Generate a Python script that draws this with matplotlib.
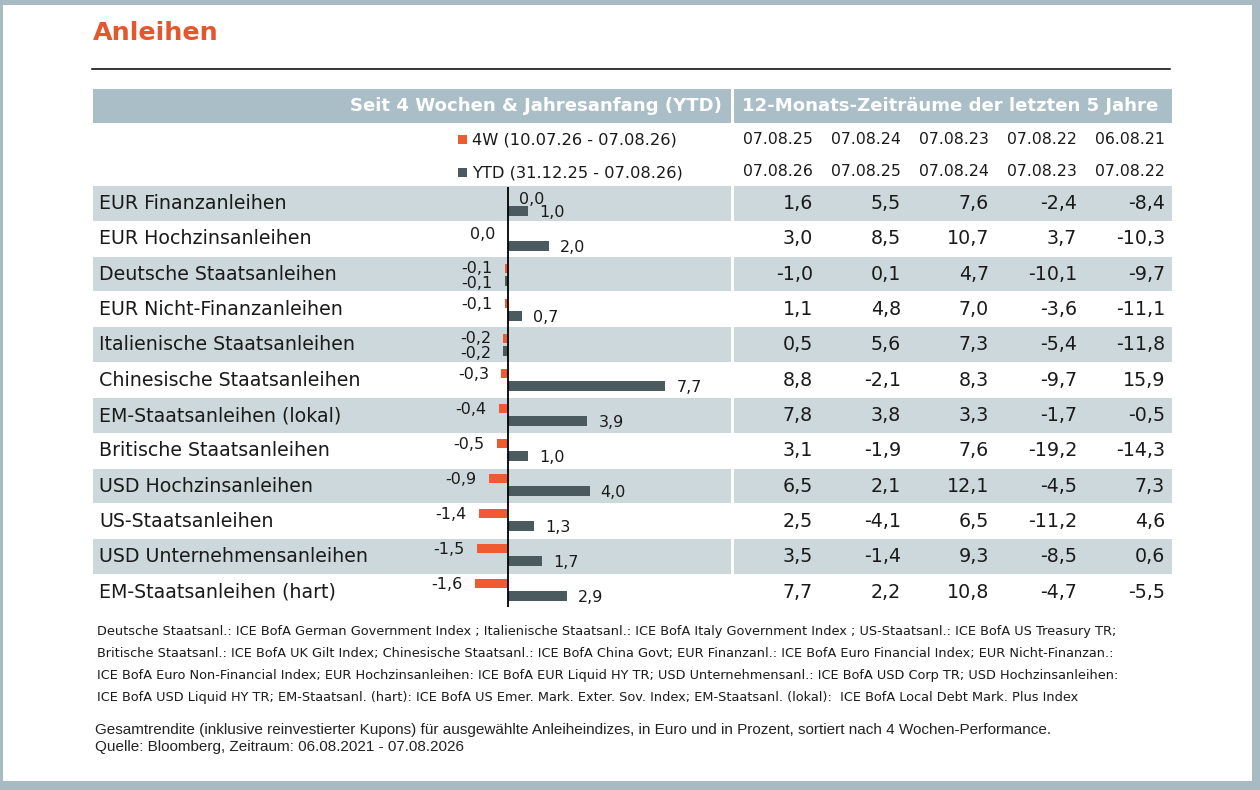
import matplotlib
matplotlib.use("Agg")
import matplotlib.pyplot as plt
from matplotlib.patches import Rectangle
import numpy as np

# ---- data ----
names = ["EUR Finanzanleihen", "EUR Hochzinsanleihen", "Deutsche Staatsanleihen",
         "EUR Nicht-Finanzanleihen", "Italienische Staatsanleihen",
         "Chinesische Staatsanleihen", "EM-Staatsanleihen (lokal)",
         "Britische Staatsanleihen", "USD Hochzinsanleihen", "US-Staatsanleihen",
         "USD Unternehmensanleihen", "EM-Staatsanleihen (hart)"]
# -0.0 = slightly negative value shown as 0,0 (label goes to the left)
w4 = [0.0, -0.0, -0.1, -0.1, -0.2, -0.3, -0.4, -0.5, -0.9, -1.4, -1.5, -1.6]
ytd = [1.0, 2.0, -0.1, 0.7, -0.2, 7.7, 3.9, 1.0, 4.0, 1.3, 1.7, 2.9]

period_start = ["07.08.25", "07.08.24", "07.08.23", "07.08.22", "06.08.21"]
period_end = ["07.08.26", "07.08.25", "07.08.24", "07.08.23", "07.08.22"]
p1 = [1.6, 3.0, -1.0, 1.1, 0.5, 8.8, 7.8, 3.1, 6.5, 2.5, 3.5, 7.7]
p2 = [5.5, 8.5, 0.1, 4.8, 5.6, -2.1, 3.8, -1.9, 2.1, -4.1, -1.4, 2.2]
p3 = [7.6, 10.7, 4.7, 7.0, 7.3, 8.3, 3.3, 7.6, 12.1, 6.5, 9.3, 10.8]
p4 = [-2.4, 3.7, -10.1, -3.6, -5.4, -9.7, -1.7, -19.2, -4.5, -11.2, -8.5, -4.7]
p5 = [-8.4, -10.3, -9.7, -11.1, -11.8, 15.9, -0.5, -14.3, 7.3, 4.6, 0.6, -5.5]
periods = [p1, p2, p3, p4, p5]

legend_4w = "4W (10.07.26 - 07.08.26)"
legend_ytd = "YTD (31.12.25 - 07.08.26)"

footnotes = [
    "Deutsche Staatsanl.: ICE BofA German Government Index ; Italienische Staatsanl.: ICE BofA Italy Government Index ; US-Staatsanl.: ICE BofA US Treasury TR;",
    "Britische Staatsanl.: ICE BofA UK Gilt Index; Chinesische Staatsanl.: ICE BofA China Govt; EUR Finanzanl.: ICE BofA Euro Financial Index; EUR Nicht-Finanzan.:",
    "ICE BofA Euro Non-Financial Index; EUR Hochzinsanleihen: ICE BofA EUR Liquid HY TR; USD Unternehmensanl.: ICE BofA USD Corp TR; USD Hochzinsanleihen:",
    "ICE BofA USD Liquid HY TR; EM-Staatsanl. (hart): ICE BofA US Emer. Mark. Exter. Sov. Index; EM-Staatsanl. (lokal):  ICE BofA Local Debt Mark. Plus Index",
]
note = ["Gesamtrendite (inklusive reinvestierter Kupons) für ausgewählte Anleiheindizes, in Euro und in Prozent, sortiert nach 4 Wochen-Performance.",
        "Quelle: Bloomberg, Zeitraum: 06.08.2021 - 07.08.2026"]

# ---- colours ----
ORANGE = "#f05a30"
SLATE = "#4b5a5f"
TITLE = "#e4572e"
HEAD = "#a9bec7"
BAND = "#cdd8dc"
FRAME = "#a8bac2"
TXT = "#1a1a1a"


def fmt(v):
    if round(v, 1) == 0:
        v = 0.0
    return f"{v:.1f}".replace(".", ",")


W, H = 1260, 790
fig = plt.figure(figsize=(W / 100, H / 100), dpi=100)
bg = fig.add_axes([0, 0, 1, 1])
bg.set_xlim(0, W)
bg.set_ylim(H, 0)
bg.axis("off")

# frame
bg.add_patch(Rectangle((0, 0), W, 5, color=FRAME, lw=0))
bg.add_patch(Rectangle((0, 0), 3, H, color=FRAME, lw=0))
bg.add_patch(Rectangle((1252, 0), 8, H, color=FRAME, lw=0))
bg.add_patch(Rectangle((0, 781), W, 9, color=FRAME, lw=0))

# title + rule
bg.text(93, 33, "Anleihen", color=TITLE, fontsize=18.3, fontweight="bold", va="center", ha="left")
bg.plot([92, 1170], [69, 69], color="black", lw=1.1)

# header band
left0, split, right1 = 93, 731, 1172
gap = 3
bg.add_patch(Rectangle((left0, 89), split - left0, 34, color=HEAD, lw=0))
bg.add_patch(Rectangle((split + gap, 89), right1 - split - gap, 34, color=HEAD, lw=0))
bg.text(722, 106, "Seit 4 Wochen & Jahresanfang (YTD)", color="white", fontsize=13.1,
        fontweight="bold", ha="right", va="center")
bg.text(742, 106, "12-Monats-Zeiträume der letzten 5 Jahre", color="white", fontsize=13.1,
        fontweight="bold", ha="left", va="center")

# legend
bg.add_patch(Rectangle((458, 135), 9, 9, color=ORANGE, lw=0))
bg.add_patch(Rectangle((458, 168), 9, 9, color=SLATE, lw=0))
bg.text(472, 140, legend_4w, fontsize=11.7, color=TXT, ha="left", va="center")
bg.text(472, 173, legend_ytd, fontsize=11.7, color=TXT, ha="left", va="center")

# period header rows
col_right = [813, 901, 989, 1077, 1165]
for j in range(5):
    bg.text(col_right[j], 139, period_start[j], fontsize=11.3, color=TXT, ha="right", va="center")
    bg.text(col_right[j], 172, period_end[j], fontsize=11.3, color=TXT, ha="right", va="center")

# rows: bands, names, table values
row_top, row_h = 186, 35.33
n = len(names)
for i in range(n):
    top = row_top + i * row_h
    cy = top + row_h / 2
    if i % 2 == 0:
        bg.add_patch(Rectangle((left0, top), split - left0, row_h - 0.6, color=BAND, lw=0))
        bg.add_patch(Rectangle((split + gap, top), right1 - split - gap, row_h - 0.6, color=BAND, lw=0))
    bg.text(99, cy, names[i], fontsize=13.7, color=TXT, ha="left", va="center")
    for j in range(5):
        bg.text(col_right[j], cy, fmt(periods[j][i]), fontsize=13.7, color=TXT,
                ha="right", va="center")

# footnotes
for k, line in enumerate(footnotes):
    bg.text(97, 632 + k * 22, line, fontsize=9.3, color=TXT, ha="left", va="center")
for k, line in enumerate(note):
    bg.text(95, 730 + k * 17, line, fontsize=11, color="#222222", ha="left", va="center",
            family="Liberation Sans")

# ---- bar chart ----
zero_px, px_per_unit = 507.5, 20.5
ax_l, ax_r = 420, 730
bar_top, bar_pitch = 186.5, 35.0
ax = fig.add_axes([ax_l / W, 1 - (bar_top + n * bar_pitch) / H,
                   (ax_r - ax_l) / W, n * bar_pitch / H])
ax.set_xlim((ax_l - zero_px) / px_per_unit, (ax_r - zero_px) / px_per_unit)
ax.set_ylim(n, 0)
ax.axis("off")
ax.patch.set_alpha(0)

y = np.arange(n)
ax.barh(y + 0.35, w4, height=0.26, color=ORANGE, zorder=2)
ax.barh(y + 0.70, ytd, height=0.26, color=SLATE, zorder=2)
ax.axvline(0, color="black", lw=1.3, ymin=-0.003, ymax=1.0, zorder=3)

for i in range(n):
    both_neg = np.signbit(w4[i]) and np.signbit(ytd[i])
    for v, yy, dy in ((w4[i], i + 0.35, 0.3 if both_neg else -0.8),
                      (ytd[i], i + 0.70, -1.6 if both_neg else -0.8)):
        neg = np.signbit(v)
        ax.annotate(fmt(v), (v, yy), xytext=(-9 if neg else 8, dy),
                    textcoords="offset points", ha="right" if neg else "left",
                    va="center", fontsize=11.5, color=TXT)

fig.savefig("out.png", dpi=100)
